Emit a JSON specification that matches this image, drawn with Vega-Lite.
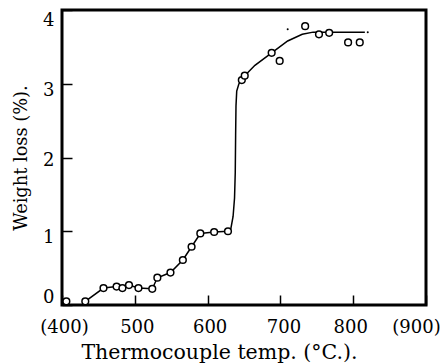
{
  "$schema": "https://vega.github.io/schema/vega-lite/v6.json",
  "width": 364,
  "height": 295,
  "autosize": {"type": "none"},
  "padding": {"left": 62, "top": 10, "right": 19, "bottom": 59},
  "background": "white",
  "config": {
    "view": {"stroke": "black", "strokeWidth": 3},
    "axis": {
      "grid": false,
      "domain": false,
      "labelFont": "DejaVu Serif",
      "labelFontSize": 18,
      "labelColor": "black",
      "titleFont": "DejaVu Serif",
      "titleFontSize": 18,
      "titleFontWeight": "normal",
      "titleColor": "black",
      "tickColor": "black",
      "tickWidth": 1.5,
      "tickSize": -10
    }
  },
  "datasets": {
    "points": [
      {"temp": 406, "loss": 0.05}, {"temp": 432, "loss": 0.05}, {"temp": 457, "loss": 0.23},
      {"temp": 475, "loss": 0.25}, {"temp": 483, "loss": 0.23}, {"temp": 492, "loss": 0.27},
      {"temp": 505, "loss": 0.23}, {"temp": 524, "loss": 0.22}, {"temp": 531, "loss": 0.37},
      {"temp": 549, "loss": 0.44}, {"temp": 566, "loss": 0.61}, {"temp": 578, "loss": 0.79},
      {"temp": 590, "loss": 0.97}, {"temp": 609, "loss": 0.99}, {"temp": 628, "loss": 1.0},
      {"temp": 647, "loss": 3.05}, {"temp": 651, "loss": 3.11}, {"temp": 688, "loss": 3.42},
      {"temp": 699, "loss": 3.31}, {"temp": 734, "loss": 3.78}, {"temp": 753, "loss": 3.67},
      {"temp": 767, "loss": 3.69}, {"temp": 793, "loss": 3.56}, {"temp": 809, "loss": 3.56}
    ],
    "curve": [
      {"i": 1, "temp": 432, "loss": 0.05}, {"i": 2, "temp": 457, "loss": 0.23},
      {"i": 3, "temp": 475, "loss": 0.25}, {"i": 4, "temp": 483, "loss": 0.23},
      {"i": 5, "temp": 492, "loss": 0.27}, {"i": 6, "temp": 505, "loss": 0.23},
      {"i": 7, "temp": 524, "loss": 0.22}, {"i": 8, "temp": 531, "loss": 0.37},
      {"i": 9, "temp": 549, "loss": 0.44}, {"i": 10, "temp": 566, "loss": 0.61},
      {"i": 11, "temp": 578, "loss": 0.79}, {"i": 12, "temp": 590, "loss": 0.97},
      {"i": 13, "temp": 609, "loss": 0.99}, {"i": 14, "temp": 628, "loss": 1.0},
      {"i": 15, "temp": 632, "loss": 1.04}, {"i": 16, "temp": 635, "loss": 1.2},
      {"i": 17, "temp": 637, "loss": 1.45}, {"i": 18, "temp": 638, "loss": 1.8},
      {"i": 19, "temp": 638.5, "loss": 2.3}, {"i": 20, "temp": 639, "loss": 2.7},
      {"i": 21, "temp": 640, "loss": 2.9}, {"i": 22, "temp": 643, "loss": 3.0},
      {"i": 23, "temp": 647, "loss": 3.05}, {"i": 24, "temp": 651, "loss": 3.11},
      {"i": 25, "temp": 665, "loss": 3.25}, {"i": 26, "temp": 688, "loss": 3.42},
      {"i": 27, "temp": 710, "loss": 3.58}, {"i": 28, "temp": 730, "loss": 3.67},
      {"i": 29, "temp": 745, "loss": 3.7}, {"i": 30, "temp": 780, "loss": 3.7},
      {"i": 31, "temp": 816, "loss": 3.7}
    ],
    "dots": [
      {"temp": 710, "loss": 3.74}, {"temp": 820, "loss": 3.7}
    ]
  },
  "layer": [
    {
      "data": {"name": "curve"},
      "mark": {"type": "line", "color": "black", "strokeWidth": 1.5, "interpolate": "linear"},
      "encoding": {
        "x": {"field": "temp", "type": "quantitative"},
        "y": {"field": "loss", "type": "quantitative"},
        "order": {"field": "i", "type": "quantitative"}
      }
    },
    {
      "data": {"name": "points"},
      "mark": {"type": "point", "shape": "circle", "filled": false, "fill": "white", "fillOpacity": 1, "stroke": "black", "strokeWidth": 1.5, "opacity": 1, "size": 45},
      "encoding": {
        "x": {
          "field": "temp", "type": "quantitative",
          "scale": {"domain": [400, 900], "nice": false, "zero": false},
          "axis": {
            "title": "Thermocouple temp. (°C.).",
            "titleFontSize": 20.5,
            "titleX": 157,
            "titleY": 53,
            "titleAlign": "center",
            "titleBaseline": "alphabetic",
            "values": [400, 500, 600, 700, 800, 900],
            "labelExpr": "datum.value == 400 || datum.value == 900 ? '(' + datum.value + ')' : '' + datum.value",
            "labelOffset": {"condition": [
              {"test": "datum.value == 900", "value": -10},
              {"test": "datum.value == 800", "value": -3},
              {"test": "datum.value == 700", "value": 3}
            ], "value": 2},
            "labelPadding": 23,
            "labelFlush": false
          }
        },
        "y": {
          "field": "loss", "type": "quantitative",
          "scale": {"domain": [0, 4], "nice": false},
          "axis": {
            "title": "Weight loss (%).",
            "titleFontSize": 17.8,
            "values": [0, 1, 2, 3, 4],
            "format": "d",
            "labelOffset": {"condition": [
              {"test": "datum.value == 0", "value": -8},
              {"test": "datum.value == 4", "value": 10},
              {"test": "datum.value == 3", "value": 7},
              {"test": "datum.value == 2", "value": 3}
            ], "value": 6},
            "labelPadding": 18,
            "titlePadding": 12,
            "labelFlush": false
          }
        }
      }
    },
    {
      "data": {"name": "dots"},
      "mark": {"type": "circle", "color": "black", "size": 4, "opacity": 1},
      "encoding": {
        "x": {"field": "temp", "type": "quantitative"},
        "y": {"field": "loss", "type": "quantitative"}
      }
    }
  ]
}
